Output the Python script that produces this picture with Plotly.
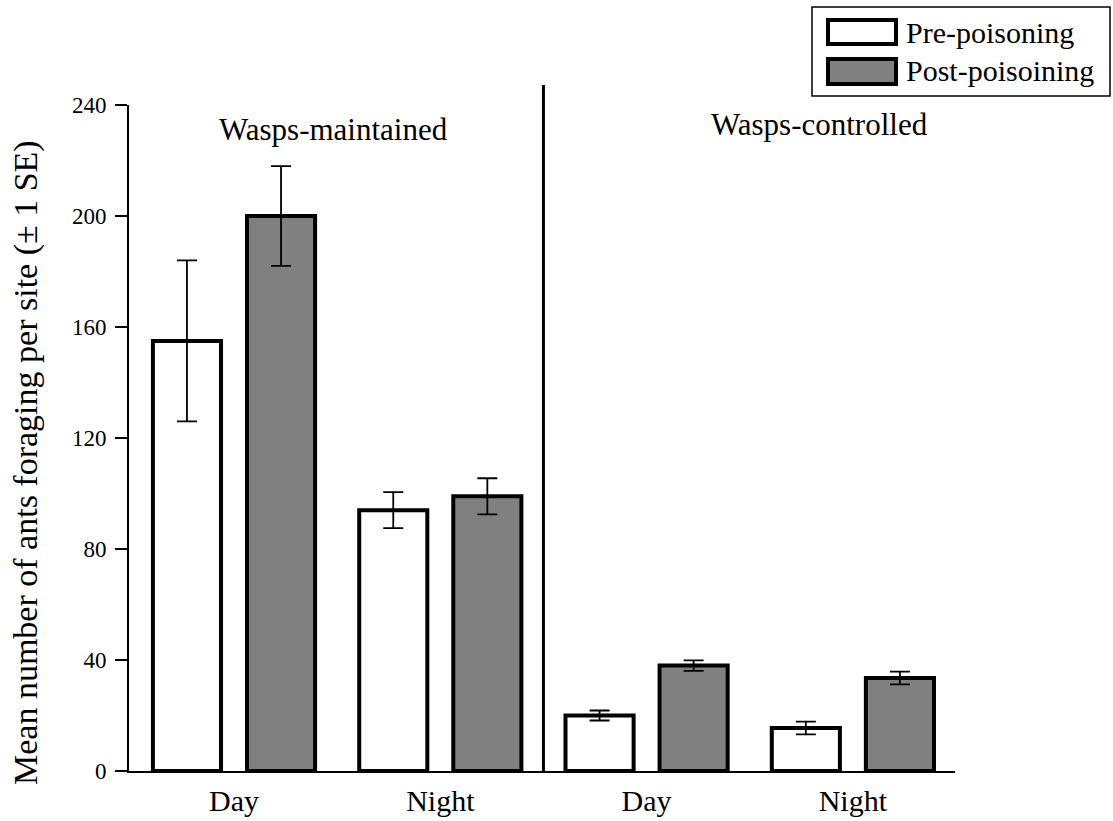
import plotly.graph_objects as go

# ---- data ----
conditions = ["Day", "Night", "Day", "Night"]
treatments = ["Wasps-maintained", "Wasps-controlled"]
pre_mean = [155, 94, 20, 15.5]
pre_se = [29, 6.5, 1.8, 2.3]
post_mean = [200, 99, 38, 33.5]
post_se = [18, 6.5, 1.9, 2.3]
series_names = ["Pre-poisoning", "Post-poisoining"]
y_ticks = [0, 40, 80, 120, 160, 200, 240]
y_title = "Mean number of ants foraging per site (\u00b1 1 SE)"

FONT = "'Liberation Serif', 'Times New Roman', serif"
GRAY = "#808080"
xpos = list(range(len(conditions)))

fig = go.Figure()
fig.add_trace(go.Bar(
    x=xpos, y=pre_mean, name=series_names[0],
    marker=dict(color="white", line=dict(color="black", width=4)),
    error_y=dict(type="data", array=pre_se, visible=True, color="black", thickness=1.8, width=10),
    showlegend=False,
))
fig.add_trace(go.Bar(
    x=xpos, y=post_mean, name=series_names[1],
    marker=dict(color=GRAY, line=dict(color="black", width=4)),
    error_y=dict(type="data", array=post_se, visible=True, color="black", thickness=1.8, width=10),
    showlegend=False,
))

# plot-area pixel geometry -> paper coordinates helpers
L, R, T, B = 129, 955, 105, 771
W, H = 1113, 821
def px(xp):
    return (xp - L) / (R - L)
def py(yp):
    return (B - yp) / (B - T)

fig.update_layout(
    width=W, height=H,
    margin=dict(l=L, r=W - R, t=T, b=H - B, pad=0),
    paper_bgcolor="white", plot_bgcolor="white",
    barmode="group", bargap=0.088, bargroupgap=0.276,
    font=dict(family=FONT, color="black"),
    showlegend=False,
)
fig.update_xaxes(
    range=[-0.509, 3.495], tickvals=xpos, ticktext=conditions,
    showline=True, linecolor="black", linewidth=2, ticks="",
    showgrid=False, zeroline=False, automargin=False,
    tickfont=dict(family=FONT, size=30, color="black"),
    ticklabelstandoff=2,
)
fig.update_yaxes(
    range=[0, 240], tickvals=y_ticks,
    showline=True, linecolor="black", linewidth=2,
    ticks="outside", ticklen=12, tickwidth=2, tickcolor="black",
    showgrid=False, zeroline=False, automargin=False,
    tickfont=dict(family=FONT, size=23, color="black"),
    ticklabelstandoff=4,
)

# y-axis title (placed as rotated text to match the reference position)
fig.add_annotation(x=px(26), y=py(463), xref="paper", yref="paper", text=y_title,
                   textangle=-90, showarrow=False, xanchor="center", yanchor="middle",
                   font=dict(family=FONT, size=34, color="black"))

# divider between treatments
fig.add_shape(type="line", xref="x", yref="paper", x0=1.5, x1=1.5,
              y0=0, y1=py(85), line=dict(color="black", width=3))

# treatment labels
fig.add_annotation(x=0.48, y=231, xref="x", yref="y", text=treatments[0],
                   showarrow=False, font=dict(family=FONT, size=31, color="black"))
fig.add_annotation(x=2.836, y=233, xref="x", yref="y", text=treatments[1],
                   showarrow=False, font=dict(family=FONT, size=31, color="black"))

# custom legend
fig.add_shape(type="rect", xref="paper", yref="paper",
              x0=px(812), x1=px(1110), y0=py(96), y1=py(7),
              line=dict(color="black", width=1.5), fillcolor="white")
fig.add_shape(type="rect", xref="paper", yref="paper",
              x0=px(828), x1=px(896), y0=py(44), y1=py(20),
              line=dict(color="black", width=4), fillcolor="white")
fig.add_shape(type="rect", xref="paper", yref="paper",
              x0=px(828), x1=px(896), y0=py(84), y1=py(59),
              line=dict(color="black", width=4), fillcolor=GRAY)
fig.add_annotation(x=px(904), y=py(32), xref="paper", yref="paper", text=series_names[0],
                   xanchor="left", yanchor="middle", showarrow=False,
                   font=dict(family=FONT, size=30, color="black"))
fig.add_annotation(x=px(904), y=py(70), xref="paper", yref="paper", text=series_names[1],
                   xanchor="left", yanchor="middle", showarrow=False,
                   font=dict(family=FONT, size=30, color="black"))

fig.write_html("out.html")
